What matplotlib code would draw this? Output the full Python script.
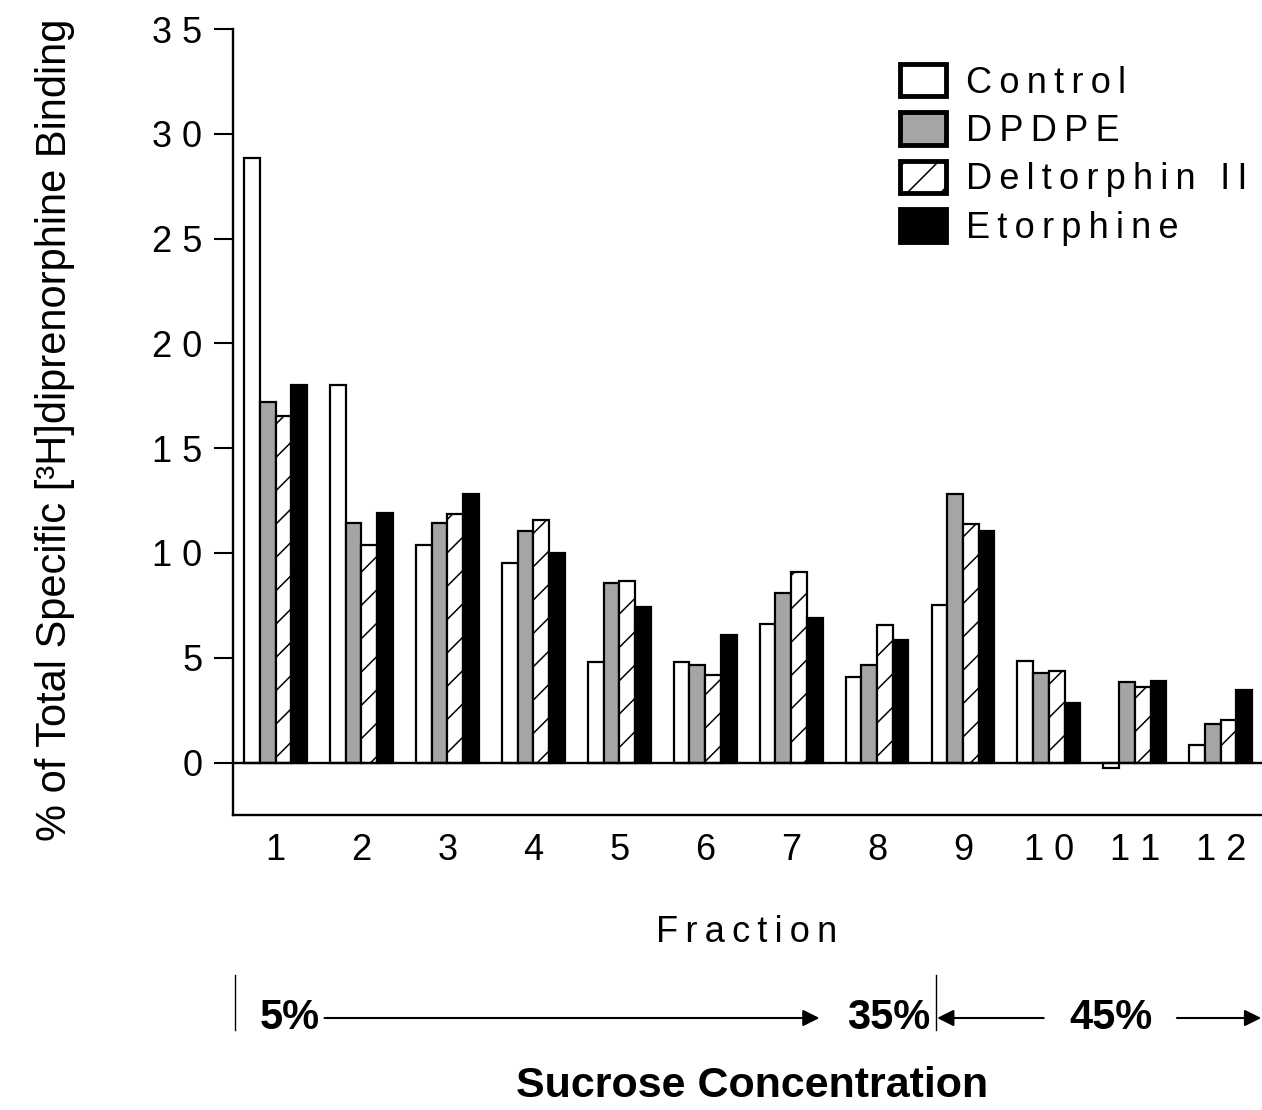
import matplotlib
matplotlib.use('Agg')
import matplotlib.pyplot as plt
from matplotlib.patches import Patch
from matplotlib.transforms import blended_transform_factory
import numpy as np

plt.rcParams['font.family'] = ['Liberation Sans', 'DejaVu Sans']
plt.rcParams['hatch.linewidth'] = 1.1

# valeurs (% de liaison spécifique totale)
fractions = np.arange(1, 13)
control = [28.85, 18.0, 10.4, 9.5, 4.8, 4.8, 6.6, 4.1, 7.5, 4.85, -0.25, 0.83]
dpdpe = [17.2, 11.45, 11.45, 11.05, 8.55, 4.67, 8.1, 4.67, 12.8, 4.26, 3.86, 1.84]
deltorphin = [16.55, 10.4, 11.88, 11.58, 8.66, 4.17, 9.08, 6.55, 11.37, 4.36, 3.62, 2.03]
etorphine = [18.02, 11.9, 12.83, 10.02, 7.41, 6.07, 6.9, 5.85, 11.05, 2.83, 3.88, 3.47]

series_names = ['Control', 'DPDPE', 'Deltorphin II', 'Etorphine']
yticks = [0, 5, 10, 15, 20, 25, 30, 35]


def spaced(s, sep=' '):
    # imite l'espacement large des lettres de l'original
    return sep.join(s)


THIN = '\u2009'

fig = plt.figure(figsize=(12.62, 11.10), dpi=100)
ax = fig.add_axes([0.18463, 0.26577, 0.81537, 0.7081])

width = 0.183
styles = [
    dict(facecolor='white', hatch=None),
    dict(facecolor='#a5a5a5', hatch=None),
    dict(facecolor='white', hatch='/'),
    dict(facecolor='black', hatch=None),
]
for k, (vals, st) in enumerate(zip([control, dpdpe, deltorphin, etorphine], styles)):
    ax.bar(fractions + (k - 1.5) * width, vals, width, facecolor=st['facecolor'],
           edgecolor='black', linewidth=1.6, hatch=st['hatch'], zorder=2)

ax.axhline(0, color='black', linewidth=1.7, zorder=3)

ax.set_xlim(0.505, 12.48)
ax.set_ylim(-2.5, 35)
ax.set_yticks(yticks)
ax.set_yticklabels([spaced(str(t)) for t in yticks], fontsize=26)
ax.set_xticks(fractions)
ax.set_xticklabels([spaced(str(f)) for f in fractions], fontsize=26)
ax.tick_params(axis='y', length=14, width=1.5, pad=8)
ax.tick_params(axis='x', length=0, pad=13)
for side in ['top', 'right']:
    ax.spines[side].set_visible(False)
for side in ['left', 'bottom']:
    ax.spines[side].set_linewidth(1.7)

# légende
handles = [Patch(facecolor=st['facecolor'], edgecolor='black', linewidth=3.5, hatch=st['hatch'])
           for st in styles]
ax.legend(handles, [spaced(n, THIN) for n in series_names], loc='upper left',
          bbox_to_anchor=(900 / 1262, 1 - 64 / 1110), bbox_transform=fig.transFigure,
          frameon=False, fontsize=26, handlelength=1.28, handleheight=1.0,
          handletextpad=0.55, labelspacing=0.33, borderpad=0, borderaxespad=0)

fig.text(55 / 1262, 1 - 430 / 1110, '% of Total Specific [\u00b3H]diprenorphine Binding',
         rotation=90, ha='center', va='center', fontsize=30)
fig.text(747 / 1262, 1 - 932 / 1110, spaced('Fraction', THIN), ha='center', va='center',
         fontsize=26)

# gradient de sucrose sous l'axe
tr = blended_transform_factory(ax.transData, fig.transFigure)
y_arrow = 1 - 1018 / 1110
for xv in [0.53, 8.69]:
    ax.plot([xv, xv], [1 - 1030 / 1110, 1 - 975 / 1110], transform=tr, clip_on=False,
            color='black', linewidth=1)
arrow_kw = dict(arrowstyle='-|>', color='black', lw=1.5, mutation_scale=25, shrinkA=0, shrinkB=0)
for x0, x1 in [(1.57, 7.33), (9.94, 8.7), (11.49, 12.47)]:
    ax.annotate('', xy=(x1, y_arrow), xytext=(x0, y_arrow), xycoords=tr, textcoords=tr,
                arrowprops=arrow_kw, annotation_clip=False)
for xv, txt in [(1.16, '5%'), (8.13, '35%'), (10.72, '45%')]:
    ax.text(xv, y_arrow, txt, transform=tr, ha='center', va='center',
            fontsize=30, fontweight='bold')
fig.text(752 / 1262, 1 - 1086 / 1110, 'Sucrose Concentration', ha='center', va='center',
         fontsize=31, fontweight='bold')

fig.savefig('out.png', dpi=100)
